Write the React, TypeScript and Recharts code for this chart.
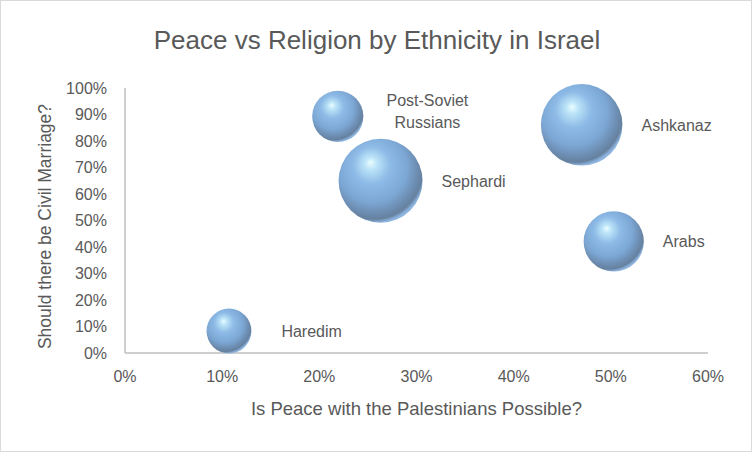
import React from "react";
import { ScatterChart, Scatter, XAxis, YAxis, ZAxis, LabelList } from "recharts";

const groups = ["Haredim", "Post-Soviet Russians", "Sephardi", "Ashkanaz", "Arabs"];
const peace = [0.107, 0.219, 0.263, 0.47, 0.503];
const civilMarriage = [0.083, 0.893, 0.65, 0.861, 0.421];
const groupSize = [10, 13, 35, 33, 18];

const X_TICKS = [0, 0.1, 0.2, 0.3, 0.4, 0.5, 0.6];
const Y_TICKS = [0, 0.1, 0.2, 0.3, 0.4, 0.5, 0.6, 0.7, 0.8, 0.9, 1];

const TITLE = "Peace vs Religion by Ethnicity in Israel";
const X_TITLE = "Is Peace with the Palestinians Possible?";
const Y_TITLE = "Should there be Civil Marriage?";

const data = groups.map((name, i) => ({
  name, x: peace[i], y: civilMarriage[i], z: groupSize[i],
}));

const FONT = "'Liberation Sans', Arial, sans-serif";
const TEXT = "#595959";
const AXIS = "#bfbfbf";
const MAX_R = 42;

// extra gap between bubble edge and its label
const LABEL_GAP: Record<string, number> = { Haredim: 30 };

const pct = (v: number) => `${Math.round(v * 100)}%`;

const Bubble = (props: any) => {
  const { cx, cy, width, size } = props;
  const r = width ? width / 2 : Math.sqrt((size || 0) / Math.PI);
  return <circle cx={cx} cy={cy} r={r} fill="url(#sphere)" />;
};

const BubbleLabel = (props: any) => {
  const { x, y, width, height, value } = props;
  const r = width / 2;
  const cx = x + width / 2;
  const cy = y + height / 2;
  const gap = LABEL_GAP[value] ?? 19;
  const words = String(value).split(" ");
  const style = { fontFamily: FONT, fontSize: 16, fill: TEXT };
  if (words.length > 1) {
    const mid = cx + r + gap + 45;
    return (
      <text x={mid} y={cy - 4} textAnchor="middle" style={style}>
        <tspan x={mid} dy={-6}>{words[0]}</tspan>
        <tspan x={mid} dy={22}>{words.slice(1).join(" ")}</tspan>
      </text>
    );
  }
  return (
    <text x={cx + r + gap} y={cy + 6} textAnchor="start" style={style}>{value}</text>
  );
};

export default function App() {
  return (
    <div style={{
      position: "absolute", left: 0, top: 0, width: 752, height: 452,
      boxSizing: "border-box", border: "1px solid #d9d9d9", background: "#fff",
    }}>
      <div style={{
        position: "absolute", left: 0, top: 23, width: 752, textAlign: "center",
        fontFamily: FONT, fontSize: 26, color: TEXT, lineHeight: "32px",
      }}>{TITLE}</div>
      <ScatterChart width={750} height={450} margin={{ top: 87, right: 43, bottom: 0, left: 0 }}
        style={{ position: "absolute", left: 0, top: 0 }}>
        <defs>
          <radialGradient id="sphere" cx="42%" cy="38%" r="62%" fx="38%" fy="28%">
            <stop offset="0%" stopColor="#eafdff" />
            <stop offset="12%" stopColor="#bce4f8" />
            <stop offset="36%" stopColor="#8dbae6" />
            <stop offset="66%" stopColor="#7ca7d4" />
            <stop offset="85%" stopColor="#6c8cb0" />
            <stop offset="94%" stopColor="#66819f" />
            <stop offset="100%" stopColor="#8cb4df" />
          </radialGradient>
        </defs>
        <XAxis type="number" dataKey="x" domain={[0, 0.6]} ticks={X_TICKS} tickFormatter={pct}
          axisLine={{ stroke: AXIS, strokeWidth: 1.5 }} tickLine={false} tickMargin={12} height={98}
          tick={{ fill: TEXT, fontSize: 16, fontFamily: FONT }}
          label={{
            content: ({ viewBox }: any) => (
              <text x={viewBox.x + viewBox.width / 2} y={viewBox.y + 62} textAnchor="middle"
                style={{ fontFamily: FONT, fontSize: 18.5, fill: TEXT }}>{X_TITLE}</text>
            ),
          }} />
        <YAxis type="number" dataKey="y" domain={[0, 1]} ticks={Y_TICKS} tickFormatter={pct}
          axisLine={{ stroke: AXIS, strokeWidth: 1.5 }} tickLine={false} tickMargin={12} width={124}
          tick={{ fill: TEXT, fontSize: 16, fontFamily: FONT }}
          label={{
            content: ({ viewBox }: any) => {
              const lx = 50;
              const ly = viewBox.y + viewBox.height / 2 + 6;
              return (
                <text x={lx} y={ly} textAnchor="middle" transform={`rotate(-90 ${lx} ${ly})`}
                  style={{ fontFamily: FONT, fontSize: 17.5, fill: TEXT }}>{Y_TITLE}</text>
              );
            },
          }} />
        <ZAxis type="number" dataKey="z" domain={[0, 35]} range={[0, Math.PI * MAX_R * MAX_R]} />
        <Scatter data={data} shape={Bubble} isAnimationActive={false}>
          <LabelList dataKey="name" content={BubbleLabel} />
        </Scatter>
      </ScatterChart>
    </div>
  );
}
